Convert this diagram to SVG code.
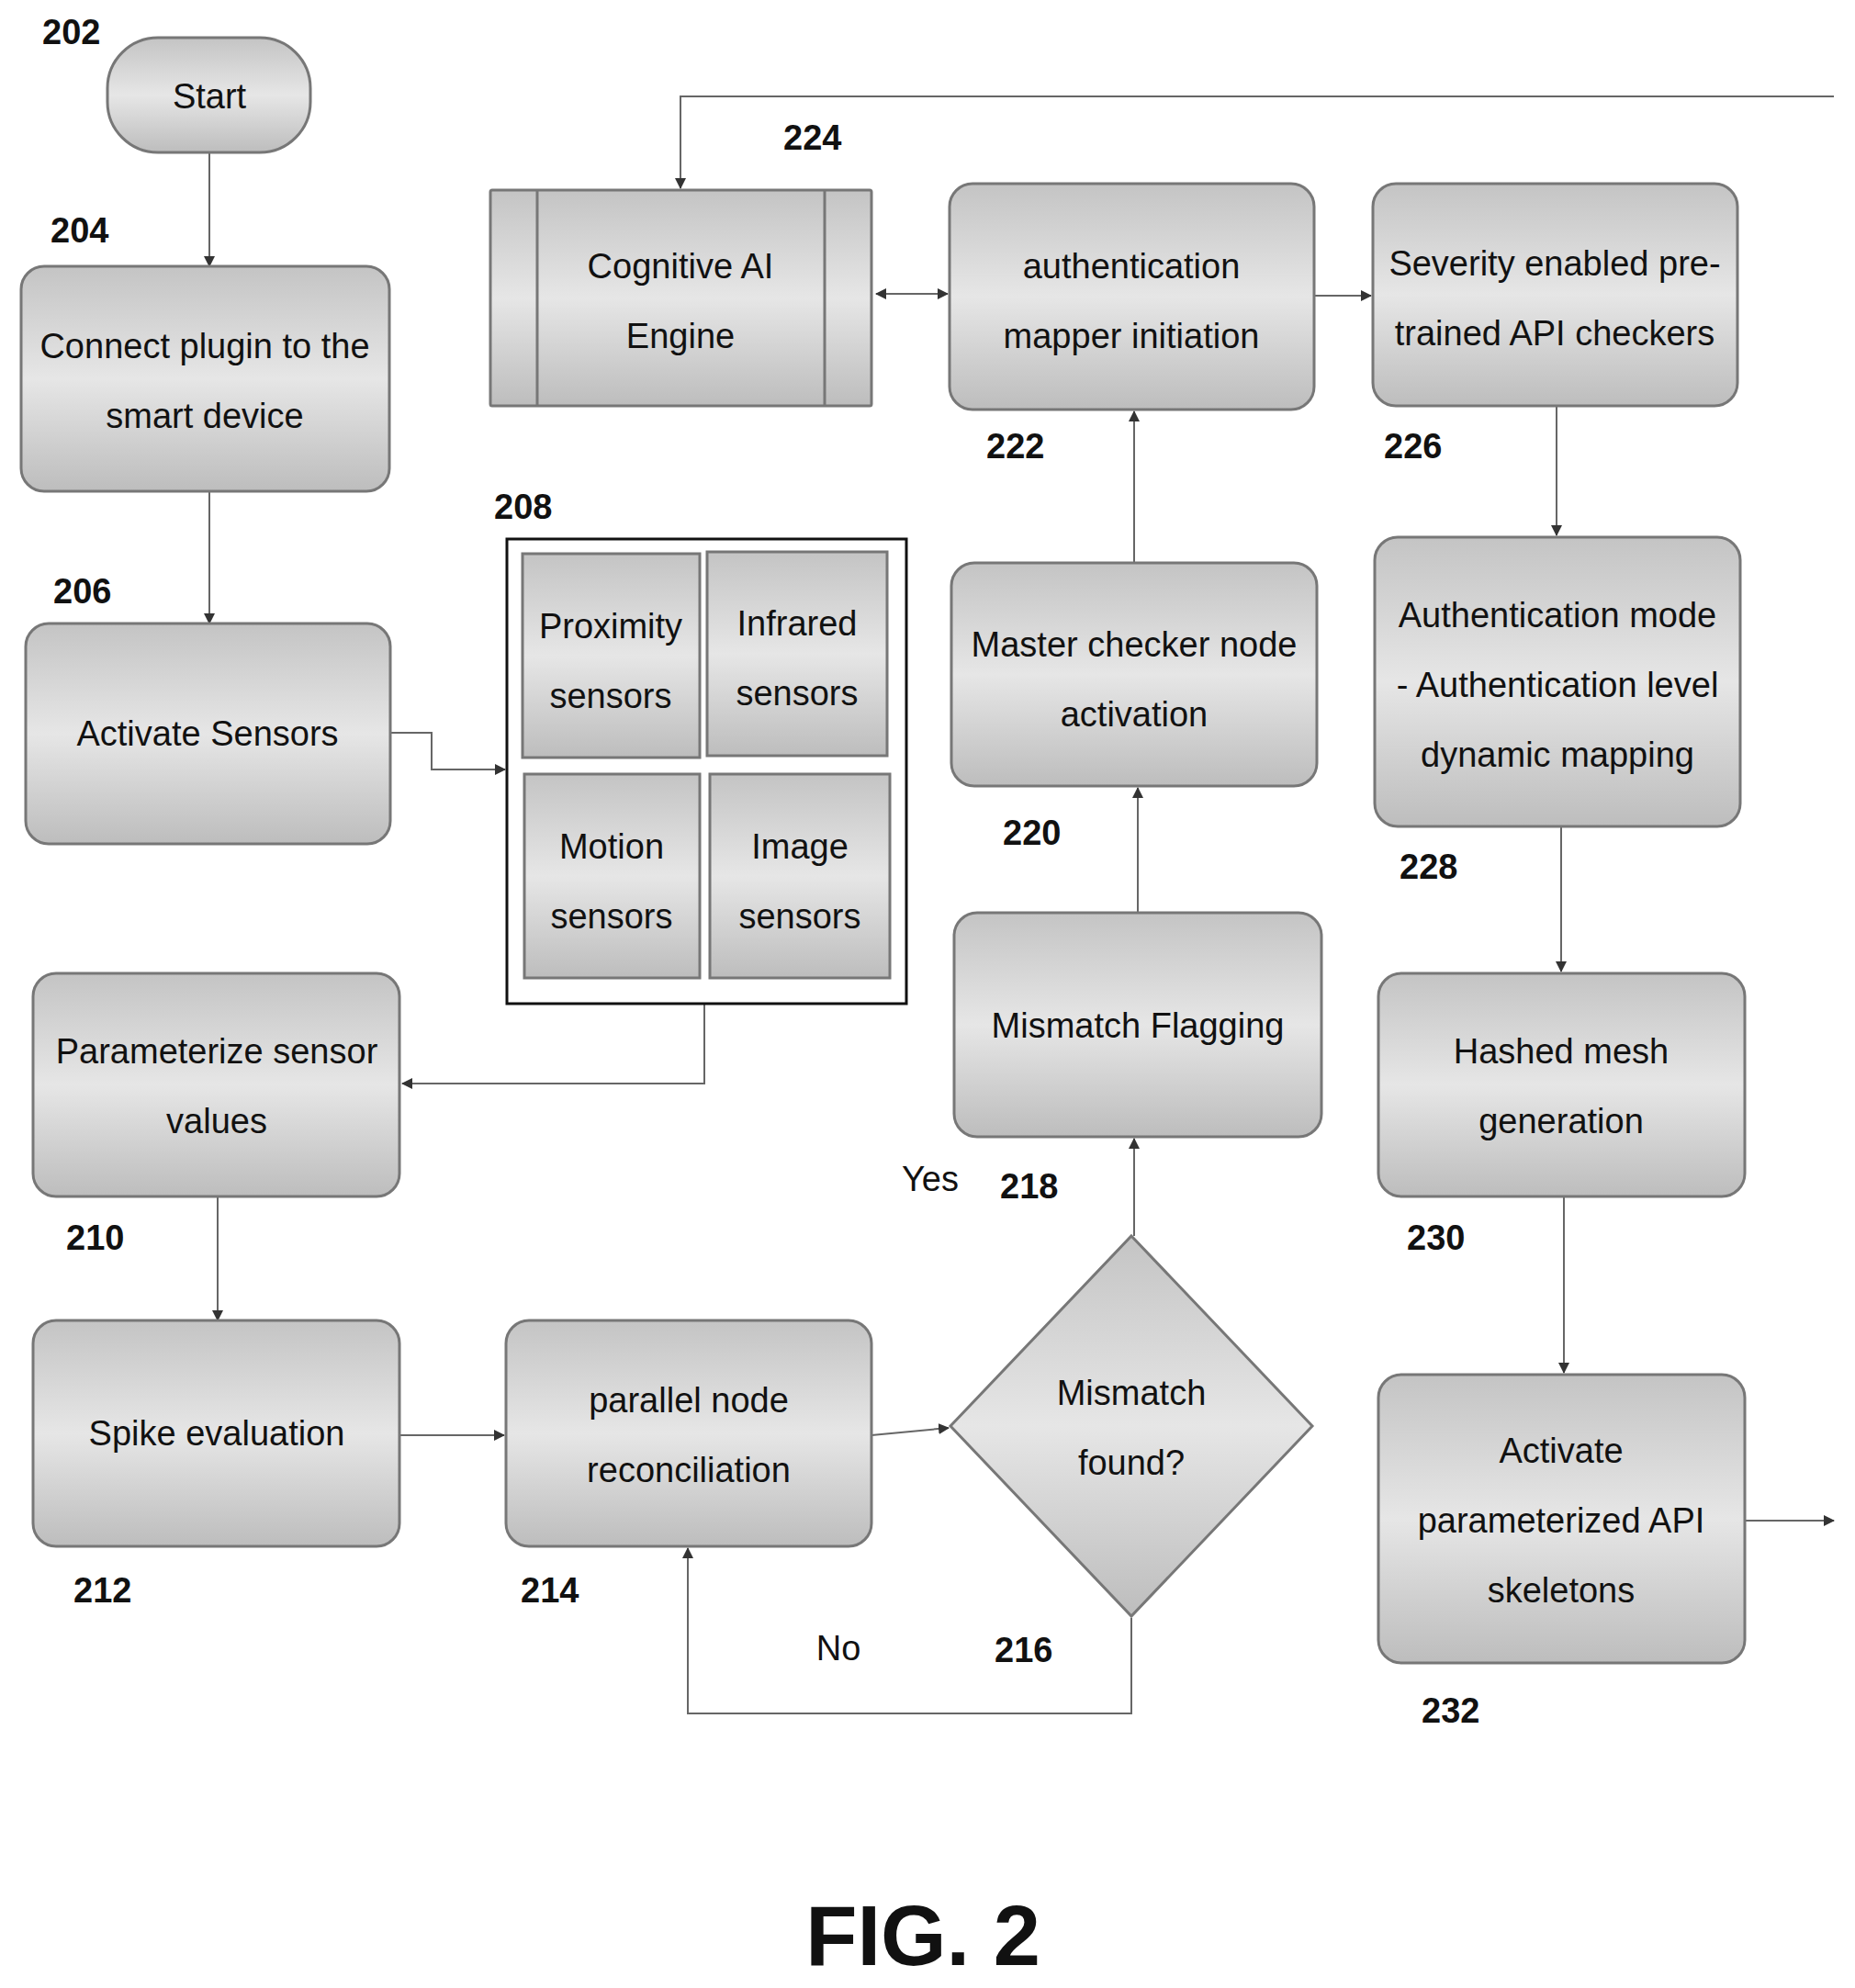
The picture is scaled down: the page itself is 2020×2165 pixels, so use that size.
<svg xmlns="http://www.w3.org/2000/svg" width="2020" height="2165" viewBox="0 0 2020 2165">
<defs>
<linearGradient id="g" x1="0" y1="0" x2="0" y2="1"><stop offset="0" stop-color="#c4c4c4"/><stop offset="0.5" stop-color="#e6e6e6"/><stop offset="1" stop-color="#bdbdbd"/></linearGradient>
<marker id="a" markerWidth="12" markerHeight="12" refX="11" refY="6" orient="auto" markerUnits="userSpaceOnUse"><path d="M0,0 L12,6 L0,12 z" fill="#333"/></marker>
<marker id="as" markerWidth="12" markerHeight="12" refX="1" refY="6" orient="auto" markerUnits="userSpaceOnUse"><path d="M12,0 L0,6 L12,12 z" fill="#333"/></marker>
</defs>
<style>
.b{fill:url(#g);stroke:#777;stroke-width:3}
.t{font-family:"Liberation Sans",Arial,sans-serif;font-size:38px;fill:#111;text-anchor:middle}
.n{font-family:"Liberation Sans",Arial,sans-serif;font-size:38px;font-weight:bold;fill:#111}
.c{fill:none;stroke:#666;stroke-width:2;marker-end:url(#a)}
</style>
<g id="connectors">
<path class="c" d="M228,166 V290"/>
<path class="c" d="M228,535 V679"/>
<path class="c" d="M425,798 H470 V838 H550"/>
<path class="c" d="M767,1093 V1180 H438"/>
<path class="c" d="M237,1303 V1438"/>
<path class="c" d="M435,1563 H549"/>
<path class="c" d="M949,1563 L1033,1555"/>
<path class="c" d="M1232,1762 V1866 H749 V1686"/>
<path class="c" d="M1235,1346 V1240"/>
<path class="c" d="M1239,994 V858"/>
<path class="c" d="M1235,613 V448"/>
<path class="c" d="M954,320 H1032" marker-start="url(#as)"/>
<path class="c" d="M1431,322 H1493"/>
<path class="c" d="M1997,105 H741 V205"/>
<path class="c" d="M1695,442 V583"/>
<path class="c" d="M1700,900 V1058"/>
<path class="c" d="M1703,1303 V1495"/>
<path class="c" d="M1900,1656 H1997"/>
</g>
<g id="n202"><rect class="b" x="117" y="41" width="221" height="125" rx="55"/><text class="t" x="228" y="118">Start</text><text class="n" x="46" y="48">202</text></g>
<g id="n204"><rect class="b" x="23" y="290" width="401" height="245" rx="25"/><text class="t" x="223" y="390">Connect plugin to the</text><text class="t" x="223" y="466">smart device</text><text class="n" x="55" y="264">204</text></g>
<g id="n206"><rect class="b" x="28" y="679" width="397" height="240" rx="25"/><text class="t" x="226" y="812">Activate Sensors</text><text class="n" x="58" y="657">206</text></g>
<g id="n208"><rect x="552" y="587" width="435" height="506" fill="#fff" stroke="#111" stroke-width="3"/>
<rect class="b" x="569" y="603" width="193" height="222"/><rect class="b" x="770" y="601" width="196" height="222"/>
<rect class="b" x="571" y="843" width="191" height="222"/><rect class="b" x="773" y="843" width="196" height="222"/>
<text class="t" x="665" y="695">Proximity</text><text class="t" x="665" y="771">sensors</text>
<text class="t" x="868" y="692">Infrared</text><text class="t" x="868" y="768">sensors</text>
<text class="t" x="666" y="935">Motion</text><text class="t" x="666" y="1011">sensors</text>
<text class="t" x="871" y="935">Image</text><text class="t" x="871" y="1011">sensors</text>
<text class="n" x="538" y="565">208</text></g>
<g id="n210"><rect class="b" x="36" y="1060" width="399" height="243" rx="25"/><text class="t" x="236" y="1158">Parameterize sensor</text><text class="t" x="236" y="1234">values</text><text class="n" x="72" y="1361">210</text></g>
<g id="n212"><rect class="b" x="36" y="1438" width="399" height="246" rx="25"/><text class="t" x="236" y="1574">Spike evaluation</text><text class="n" x="80" y="1745">212</text></g>
<g id="n214"><rect class="b" x="551" y="1438" width="398" height="246" rx="25"/><text class="t" x="750" y="1538">parallel node</text><text class="t" x="750" y="1614">reconciliation</text><text class="n" x="567" y="1745">214</text></g>
<g id="n216"><polygon class="b" points="1232,1346 1429,1553 1232,1760 1035,1553"/><text class="t" x="1232" y="1530">Mismatch</text><text class="t" x="1232" y="1606">found?</text><text class="n" x="1083" y="1810">216</text><text class="t" x="913" y="1808">No</text></g>
<g id="n218"><rect class="b" x="1039" y="994" width="400" height="244" rx="25"/><text class="t" x="1239" y="1130">Mismatch Flagging</text><text class="n" x="1089" y="1305">218</text><text class="t" x="1013" y="1297">Yes</text></g>
<g id="n220"><rect class="b" x="1036" y="613" width="398" height="243" rx="25"/><text class="t" x="1235" y="715">Master checker node</text><text class="t" x="1235" y="791">activation</text><text class="n" x="1092" y="920">220</text></g>
<g id="n222"><rect class="b" x="1034" y="200" width="397" height="246" rx="25"/><text class="t" x="1232" y="303">authentication</text><text class="t" x="1232" y="379">mapper initiation</text><text class="n" x="1074" y="499">222</text></g>
<g id="n224"><rect class="b" x="534" y="207" width="415" height="235" rx="2"/><line x1="585" y1="207" x2="585" y2="442" stroke="#777" stroke-width="3"/><line x1="898" y1="207" x2="898" y2="442" stroke="#777" stroke-width="3"/><text class="t" x="741" y="303">Cognitive AI</text><text class="t" x="741" y="379">Engine</text><text class="n" x="853" y="163">224</text></g>
<g id="n226"><rect class="b" x="1495" y="200" width="397" height="242" rx="25"/><text class="t" x="1693" y="300">Severity enabled pre-</text><text class="t" x="1693" y="376">trained API checkers</text><text class="n" x="1507" y="499">226</text></g>
<g id="n228"><rect class="b" x="1497" y="585" width="398" height="315" rx="25"/><text class="t" x="1696" y="683">Authentication mode</text><text class="t" x="1696" y="759">- Authentication level</text><text class="t" x="1696" y="835">dynamic mapping</text><text class="n" x="1524" y="957">228</text></g>
<g id="n230"><rect class="b" x="1501" y="1060" width="399" height="243" rx="25"/><text class="t" x="1700" y="1158">Hashed mesh</text><text class="t" x="1700" y="1234">generation</text><text class="n" x="1532" y="1361">230</text></g>
<g id="n232"><rect class="b" x="1501" y="1497" width="399" height="314" rx="25"/><text class="t" x="1700" y="1593">Activate</text><text class="t" x="1700" y="1669">parameterized API</text><text class="t" x="1700" y="1745">skeletons</text><text class="n" x="1548" y="1876">232</text></g>
<text x="1005" y="2140" font-family="Liberation Sans,Arial,sans-serif" font-size="92" font-weight="bold" text-anchor="middle" fill="#111">FIG. 2</text>
</svg>
